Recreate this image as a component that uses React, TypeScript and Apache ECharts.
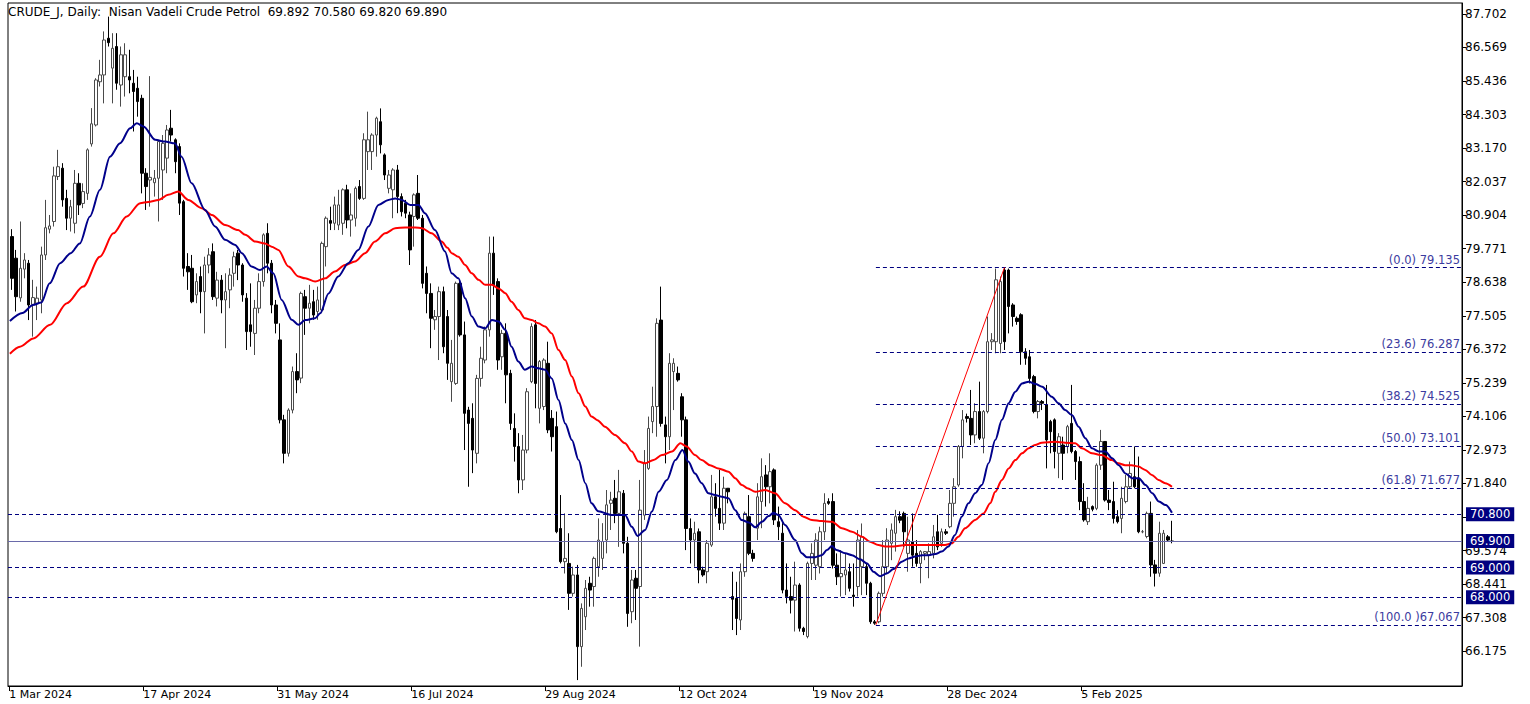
import React, { useEffect, useRef } from "react";
import * as echarts from "echarts";

const FONT = "DejaVu Sans";

const headerText = "CRUDE_J, Daily:  Nisan Vadeli Crude Petrol  69.892 70.580 69.820 69.890";

// Daily OHLC, bar index 0 .. 277
const open = [
  80.18, 79.45, 78.11, 79.08, 79.28, 77.89, 77.93, 78.04, 79.56, 80.43,
  80.69, 82.21, 82.49, 81.47, 80.80, 80.63, 81.98, 81.30, 81.64, 83.31,
  83.95, 85.41, 85.64, 86.88, 85.87, 86.60, 85.30, 85.58, 85.58, 85.36,
  85.19, 84.85, 82.32, 82.09, 82.00, 82.15, 82.43, 82.83, 83.84, 83.45,
  83.22, 81.36, 79.17, 79.11, 78.21, 78.83, 78.32, 79.22, 79.67, 78.10,
  78.71, 78.04, 78.38, 78.94, 79.62, 79.22, 78.10, 77.20, 76.91, 77.76,
  78.66, 80.29, 79.28, 77.87, 76.69, 73.99, 72.86, 74.32, 75.62, 75.40,
  78.15, 77.76, 77.98, 77.65, 77.70, 79.84, 80.72, 80.63, 80.57, 80.63,
  81.76, 80.74, 80.80, 81.87, 81.47, 83.05, 83.05, 83.61, 84.06, 82.94,
  81.81, 81.76, 82.43, 81.53, 81.31, 80.91, 80.86, 81.64, 80.80, 78.94,
  78.26, 77.37, 77.48, 78.32, 77.48, 75.28, 75.22, 78.60, 76.86, 74.32,
  74.04, 72.86, 75.39, 76.01, 77.03, 79.62, 78.66, 76.12, 76.91, 75.56,
  73.70, 73.09, 71.96, 72.97, 75.28, 77.20, 74.38, 74.44, 75.90, 74.04,
  73.76, 70.32, 69.20, 69.14, 68.13, 68.75, 66.33, 67.34, 68.47, 68.36,
  69.03, 69.31, 69.93, 71.17, 71.34, 70.83, 71.51, 69.82, 67.51, 68.64,
  68.36, 70.77, 72.35, 73.93, 74.44, 77.36, 73.82, 73.42, 75.62, 75.56,
  74.77, 73.99, 70.32, 69.93, 70.21, 68.92, 68.86, 69.76, 71.39, 71.00,
  70.50, 71.68, 68.02, 67.96, 67.23, 68.86, 70.72, 69.48, 70.33, 71.23,
  72.13, 71.73, 72.30, 70.55, 70.16, 68.24, 68.02, 67.90, 68.41, 66.95,
  66.67, 69.14, 69.08, 69.03, 70.21, 71.23, 71.23, 69.08, 68.69, 68.75,
  68.86, 68.07, 68.36, 69.03, 69.03, 68.47, 67.17, 67.17, 68.13, 69.03,
  69.82, 70.16, 70.72, 70.83, 69.48, 69.88, 69.48, 69.14, 69.48, 69.42,
  69.48, 70.21, 69.82, 70.21, 70.38, 71.17, 71.79, 73.09, 74.10, 74.04,
  73.48, 74.27, 73.37, 74.27, 76.63, 76.63, 76.57, 79.05, 79.05, 77.87,
  77.42, 77.54, 76.29, 76.12, 75.45, 74.27, 74.61, 74.49, 73.93, 73.99,
  72.86, 73.14, 73.09, 73.87, 72.92, 72.58, 71.23, 70.55, 71.06, 71.00,
  72.46, 73.26, 71.28, 71.23, 70.72, 70.66, 71.23, 71.73, 72.07, 72.02,
  70.21, 70.05, 70.83, 69.09, 68.81, 69.14, 70.04, 69.892,
];
const high = [
  80.43, 79.73, 80.69, 79.62, 79.39, 78.72, 78.49, 79.84, 81.42, 80.91,
  82.54, 83.11, 82.66, 81.76, 81.42, 82.43, 82.32, 81.98, 83.16, 84.52,
  85.53, 86.15, 87.11, 87.61, 87.05, 87.05, 86.60, 86.71, 86.49, 85.81,
  85.58, 84.97, 82.49, 85.60, 82.43, 83.45, 83.61, 83.95, 84.46, 83.50,
  83.33, 81.42, 79.62, 79.56, 78.94, 79.17, 79.50, 79.79, 79.95, 78.99,
  78.88, 78.94, 79.11, 79.67, 79.73, 79.28, 78.27, 78.60, 78.04, 78.94,
  80.29, 80.63, 79.39, 78.04, 77.25, 74.16, 74.38, 75.79, 76.24, 78.32,
  78.38, 78.55, 78.38, 78.49, 80.01, 80.86, 81.19, 81.53, 81.76, 81.81,
  81.93, 81.64, 81.87, 82.09, 83.67, 84.40, 83.67, 84.23, 84.51, 82.99,
  82.43, 82.49, 82.60, 81.64, 81.42, 81.02, 81.64, 82.26, 80.91, 79.17,
  78.60, 77.70, 78.49, 78.49, 77.70, 76.69, 78.66, 78.70, 77.31, 74.43,
  74.55, 75.51, 76.46, 77.14, 80.18, 80.18, 78.77, 77.03, 77.25, 75.68,
  74.21, 73.54, 73.48, 75.06, 77.25, 77.36, 76.01, 76.07, 76.63, 74.32,
  74.27, 71.45, 70.83, 70.16, 69.03, 69.09, 67.79, 68.58, 68.69, 69.37,
  70.66, 70.50, 71.62, 71.56, 71.96, 72.30, 71.62, 70.04, 68.92, 68.92,
  71.96, 72.97, 74.10, 75.11, 77.42, 78.49, 74.10, 76.24, 76.07, 75.79,
  74.89, 74.10, 70.66, 70.55, 70.32, 69.03, 69.93, 72.13, 71.85, 72.30,
  72.07, 71.68, 68.86, 68.52, 69.14, 70.89, 71.45, 69.60, 71.85, 72.69,
  72.46, 72.86, 72.35, 71.06, 70.50, 69.14, 68.69, 69.20, 68.47, 67.00,
  69.20, 69.82, 70.16, 70.38, 71.51, 71.34, 71.51, 69.48, 69.59, 69.48,
  69.14, 69.14, 70.27, 70.49, 69.14, 68.52, 67.23, 68.19, 69.93, 70.33,
  70.49, 70.95, 70.90, 70.89, 70.72, 70.83, 69.93, 69.59, 69.56, 69.82,
  70.44, 70.78, 70.32, 70.30, 71.62, 72.02, 73.14, 74.32, 74.20, 75.00,
  74.55, 75.28, 74.32, 77.48, 76.92, 79.10, 78.83, 79.135, 79.10, 77.93,
  77.48, 77.59, 76.41, 76.35, 75.51, 74.66, 74.66, 75.17, 73.99, 74.04,
  73.54, 73.42, 73.82, 75.17, 72.97, 72.75, 71.85, 71.39, 71.10, 72.52,
  73.65, 73.26, 71.62, 71.90, 70.94, 71.73, 72.13, 72.58, 73.09, 72.75,
  70.27, 70.89, 71.23, 69.26, 70.55, 70.27, 70.10, 70.58,
];
const low = [
  78.38, 77.65, 77.98, 78.77, 77.36, 76.80, 77.36, 77.59, 79.39, 80.29,
  80.52, 82.09, 81.19, 80.40, 80.35, 80.29, 80.91, 81.14, 81.42, 83.22,
  83.90, 85.25, 84.68, 86.60, 84.68, 85.14, 84.57, 84.91, 85.02, 83.73,
  84.23, 81.64, 81.08, 81.19, 81.53, 80.69, 81.42, 82.32, 83.39, 82.32,
  80.91, 78.83, 78.38, 77.93, 77.93, 77.59, 76.91, 78.94, 78.04, 77.82,
  77.59, 76.41, 77.76, 78.49, 78.71, 77.98, 76.35, 76.46, 76.18, 77.59,
  78.49, 78.94, 77.59, 76.91, 73.87, 72.52, 72.75, 74.21, 74.89, 75.23,
  76.86, 77.25, 77.37, 77.37, 77.65, 79.17, 80.40, 80.40, 80.40, 80.24,
  80.46, 80.18, 80.52, 81.42, 81.42, 82.43, 82.43, 82.88, 82.99, 82.09,
  81.64, 80.80, 80.97, 80.86, 80.80, 79.22, 79.84, 80.74, 78.43, 77.59,
  76.41, 77.03, 76.01, 76.24, 75.34, 74.60, 75.17, 76.80, 72.97, 71.73,
  72.19, 72.52, 75.11, 75.90, 76.80, 78.21, 75.68, 75.68, 74.55, 73.65,
  72.58, 71.51, 71.62, 72.86, 75.23, 74.38, 73.87, 74.32, 73.54, 72.92,
  70.16, 69.14, 68.80, 67.57, 68.02, 65.20, 65.65, 66.89, 67.68, 67.68,
  68.69, 68.92, 69.48, 70.27, 70.50, 69.70, 69.48, 67.00, 67.12, 67.23,
  66.33, 70.61, 72.30, 73.54, 73.42, 73.76, 72.52, 72.97, 74.32, 75.28,
  73.42, 69.59, 69.14, 69.03, 68.47, 68.69, 68.47, 69.70, 70.72, 70.27,
  70.27, 71.17, 66.89, 66.72, 66.89, 68.69, 69.42, 69.20, 69.93, 70.33,
  71.06, 71.17, 70.44, 69.93, 68.13, 67.79, 67.45, 66.84, 66.84, 66.72,
  66.61, 68.58, 68.58, 68.80, 69.93, 71.12, 68.97, 68.41, 68.02, 68.07,
  68.19, 67.68, 68.02, 68.07, 68.07, 67.10, 67.067, 67.12, 68.02, 68.80,
  69.25, 69.54, 70.50, 69.70, 68.86, 69.03, 69.03, 68.47, 69.25, 68.64,
  69.31, 69.59, 69.70, 70.10, 70.33, 70.72, 71.73, 72.69, 73.90, 73.14,
  73.20, 73.31, 72.86, 74.21, 76.35, 76.24, 76.24, 76.35, 76.91, 77.14,
  77.20, 75.85, 75.85, 75.22, 74.21, 74.04, 74.32, 72.35, 72.86, 72.35,
  72.02, 71.96, 72.86, 72.86, 71.96, 70.94, 70.55, 70.44, 70.90, 70.94,
  72.30, 71.23, 70.94, 70.49, 70.49, 70.16, 71.17, 71.68, 71.68, 70.16,
  70.16, 69.99, 68.69, 68.36, 68.69, 69.12, 69.88, 69.82,
];
const close = [
  78.77, 78.15, 79.11, 79.39, 77.87, 78.12, 78.10, 79.56, 80.48, 80.54,
  82.23, 82.54, 81.42, 80.80, 81.19, 81.98, 81.25, 81.70, 83.11, 83.99,
  85.47, 85.64, 86.82, 86.73, 86.54, 85.36, 86.32, 86.32, 85.47, 85.08,
  84.74, 82.32, 81.87, 82.18, 82.15, 83.39, 83.33, 83.78, 83.61, 82.71,
  81.31, 79.11, 78.99, 77.98, 78.66, 78.32, 79.22, 79.56, 78.15, 78.71,
  78.04, 78.32, 78.88, 79.50, 79.22, 78.21, 76.97, 76.97, 77.76, 78.66,
  80.24, 79.28, 77.87, 77.25, 73.99, 72.86, 74.32, 75.62, 75.34, 78.26,
  77.76, 77.93, 77.53, 78.04, 79.95, 80.80, 80.63, 81.25, 81.25, 81.76,
  80.74, 80.91, 81.81, 81.47, 83.45, 83.45, 83.61, 84.18, 83.28, 82.26,
  82.26, 82.43, 81.53, 81.02, 80.97, 79.73, 81.59, 80.80, 78.60, 78.26,
  77.42, 77.48, 78.32, 76.46, 75.90, 75.90, 78.60, 76.86, 74.21, 73.87,
  72.97, 75.39, 76.07, 77.03, 79.62, 78.55, 76.01, 76.91, 75.51, 73.87,
  73.09, 71.96, 72.97, 74.94, 77.14, 75.22, 75.96, 76.01, 73.65, 73.42,
  70.21, 69.20, 69.31, 68.13, 68.75, 66.33, 67.62, 68.30, 68.24, 69.31,
  69.93, 69.88, 71.12, 71.28, 70.83, 71.56, 69.82, 67.45, 68.58, 68.30,
  70.94, 72.52, 73.70, 74.44, 77.25, 73.87, 73.42, 75.90, 75.90, 75.34,
  73.99, 70.32, 69.93, 70.16, 68.92, 68.75, 69.82, 71.39, 71.00, 70.50,
  71.68, 71.56, 67.93, 67.28, 68.86, 70.83, 69.48, 69.31, 71.39, 72.07,
  71.73, 72.24, 70.61, 70.38, 68.24, 68.02, 67.90, 68.41, 66.95, 66.84,
  69.14, 69.48, 69.93, 70.21, 71.17, 71.17, 69.08, 68.69, 68.80, 68.92,
  68.30, 68.02, 69.93, 70.04, 68.47, 67.17, 67.12, 68.13, 69.03, 69.93,
  70.27, 70.72, 70.60, 70.21, 69.93, 69.42, 69.14, 69.54, 69.54, 69.54,
  70.04, 69.70, 70.21, 70.16, 71.17, 71.73, 73.09, 73.99, 74.04, 73.48,
  74.27, 73.37, 74.27, 76.63, 76.69, 78.72, 78.66, 76.63, 77.82, 77.48,
  77.31, 76.29, 76.07, 75.39, 74.27, 74.61, 74.55, 73.31, 73.59, 72.92,
  73.42, 72.86, 73.76, 72.92, 72.58, 71.23, 70.61, 71.00, 70.97, 72.46,
  73.26, 71.28, 71.20, 70.66, 70.55, 71.34, 71.73, 72.18, 71.73, 70.21,
  70.21, 70.83, 69.09, 68.81, 70.16, 70.16, 69.93, 69.89,
];

// Moving averages: [bar position, value]
const blueMA = [
  [-0.5, 77.33], [2.5, 77.6], [5, 77.87], [7, 77.95], [9, 78.6], [11.5, 79.28], [14, 79.62], [16.2, 79.95],
  [18.6, 80.86], [21, 81.76], [23.4, 82.88], [25.8, 83.33], [28.2, 83.84], [29.8, 84.01], [31.4, 83.9],
  [34.2, 83.45], [36.5, 83.39], [38.9, 83.33], [40.5, 82.88], [42.9, 81.98], [46.1, 81.08], [48.5, 80.52],
  [50.9, 80.07], [53.3, 79.9], [54.9, 79.62], [57.2, 79.17], [59.2, 79.05], [60.8, 79.17], [62.4, 78.94],
  [64.4, 78.04], [66.8, 77.37], [68.4, 77.2], [70, 77.36], [72.4, 77.42], [73.6, 77.59], [75.6, 78.26],
  [77.9, 78.83], [80.3, 79.28], [82.7, 79.73], [85.1, 80.52], [87.5, 81.25], [89.9, 81.42], [91.5, 81.47],
  [93.1, 81.42], [95.1, 81.25], [97.1, 81.25], [98.6, 80.97], [101, 80.4], [103.4, 79.68], [105, 78.94],
  [106.6, 78.77], [108.2, 78.1], [109.8, 77.48], [111.4, 77.14], [113, 77.08], [114.6, 77.36], [116.2, 77.31],
  [117.8, 77.03], [119.3, 76.46], [120.9, 75.96], [122.5, 75.68], [124.1, 75.79], [125.7, 75.73], [127.3, 75.68],
  [128.9, 75.39], [130.5, 74.66], [132.1, 73.87], [133.7, 73.31], [135.3, 72.63], [136.9, 71.85], [138.4, 71.17],
  [140, 70.9], [143.2, 70.78], [146.4, 70.78], [148, 70.38], [149.4, 70.07], [151.2, 70.27], [152.8, 70.89],
  [154.4, 71.56], [156.4, 71.96], [158.4, 72.63], [160.1, 72.97], [161.5, 72.58], [163.1, 72.18], [164.7, 71.85],
  [166.3, 71.51], [167.9, 71.45], [169.5, 71.39], [171.1, 71.34], [172.7, 70.94], [174.2, 70.61], [176, 70.52],
  [177.5, 70.36], [179.1, 70.55], [180.7, 70.74], [181.8, 70.85], [183, 70.78], [184.6, 70.44], [187, 69.93],
  [188.6, 69.48], [189.8, 69.35], [191.8, 69.35], [193.4, 69.42], [194.6, 69.59], [195.8, 69.73], [196.9, 69.59],
  [199, 69.48], [200.6, 69.42], [202.5, 69.28], [204.2, 69.14], [205.7, 68.86], [207.3, 68.71], [208.9, 68.8],
  [210.5, 68.95], [212.5, 69.2], [214.1, 69.31], [215.7, 69.37], [217.3, 69.42], [218.9, 69.42], [220.5, 69.46],
  [222, 69.54], [223.6, 69.71], [225.2, 70.1], [226.8, 70.72], [228.4, 71.17], [230, 71.51], [231.6, 71.79],
  [233.2, 72.52], [234.8, 73.31], [236.4, 73.99], [238, 74.55], [239.6, 74.94], [241.2, 75.22], [242.8, 75.28],
  [244.4, 75.2], [246, 75.11], [248.3, 74.77], [249.9, 74.55], [251.5, 74.32], [253.1, 74.15], [254.7, 73.76],
  [256.3, 73.37], [257.9, 73.03], [259.5, 72.92], [261.1, 72.92], [262.7, 72.69], [264.3, 72.46], [265.9, 72.18],
  [267.5, 72.02], [269.1, 72.02], [270.7, 71.79], [272.3, 71.51], [273.9, 71.23], [275.5, 71.11], [277, 70.85],
];
const redMA = [
  [-0.5, 76.22], [1.9, 76.46], [5.1, 76.74], [9.1, 77.2], [13.1, 77.93], [17, 78.49], [21, 79.5], [24.2, 80.29],
  [27.4, 80.86], [30.6, 81.31], [32.5, 81.35], [35, 81.42], [37.3, 81.59], [39.7, 81.7], [42.1, 81.42],
  [45.3, 81.14], [47.7, 80.91], [50.9, 80.57], [54, 80.4], [55.7, 80.24], [58.1, 80.01], [60.4, 79.95],
  [62, 79.84], [63.6, 79.73], [66, 79.17], [68.4, 78.83], [70, 78.77], [72.4, 78.66], [74.8, 78.77],
  [77.1, 79.0], [79.5, 79.22], [81.9, 79.34], [84.3, 79.62], [86.7, 80.01], [89.1, 80.29], [91.5, 80.46],
  [93.9, 80.49], [96.3, 80.49], [97.9, 80.46], [100.2, 80.29], [102.6, 80.01], [104, 79.8], [105, 79.62],
  [106.6, 79.5], [108.2, 79.22], [109.8, 78.94], [111.4, 78.72], [113, 78.55], [114.6, 78.55], [116.2, 78.43],
  [117.8, 78.27], [119.3, 77.98], [120.9, 77.7], [122.5, 77.42], [124.1, 77.36], [125.7, 77.25], [127.3, 77.14],
  [128.9, 76.91], [130.5, 76.35], [132.1, 76.01], [133.7, 75.45], [135.3, 74.89], [136.9, 74.44], [138.4, 74.1],
  [139.8, 73.98], [141.6, 73.76], [144, 73.48], [146.4, 73.2], [148, 72.92], [149.6, 72.58], [151.2, 72.52],
  [153.2, 72.63], [155.2, 72.8], [157.6, 72.92], [159.6, 73.2], [161.1, 73.09], [163.1, 72.8], [164.7, 72.63],
  [166.7, 72.46], [168.7, 72.35], [171.1, 72.24], [172.7, 72.02], [174.3, 71.79], [175.6, 71.68], [177.5, 71.56],
  [179.9, 71.62], [182.2, 71.51], [184.6, 71.17], [187, 70.94], [189, 70.72], [191, 70.61], [193.4, 70.57],
  [195.8, 70.55], [198.2, 70.33], [200.6, 70.21], [203, 70.04], [204.9, 69.87], [206.9, 69.76], [208.5, 69.71],
  [210.5, 69.71], [213.3, 69.76], [215.7, 69.76], [218.1, 69.76], [220.5, 69.76], [222.8, 69.76], [224.4, 69.82],
  [226, 70.04], [227.6, 70.33], [230, 70.61], [232, 70.83], [233.6, 71.17], [234.8, 71.56], [236.4, 71.96],
  [238, 72.35], [239.6, 72.63], [241.2, 72.86], [242.8, 73.03], [244.3, 73.14], [245.9, 73.22], [249.1, 73.25],
  [251.5, 73.22], [253.9, 73.2], [255.5, 73.03], [257.9, 72.86], [260.2, 72.8], [262.6, 72.63], [264.2, 72.52],
  [265.8, 72.46], [267.4, 72.46], [269, 72.41], [270.6, 72.3], [272.2, 72.13], [273.8, 71.96], [275.4, 71.85],
  [277, 71.73],
];

const priceTicks = [
  87.702, 86.569, 85.436, 84.303, 83.17, 82.037, 80.904, 79.771, 78.638, 77.505,
  76.372, 75.239, 74.106, 72.973, 71.84, 70.707, 69.574, 68.441, 67.308, 66.175,
];
// labels shown on the price scale (70.707 is hidden behind the 70.800 tag in the reference)
const priceLabels = [
  87.702, 86.569, 85.436, 84.303, 83.17, 82.037, 80.904, 79.771, 78.638, 77.505,
  76.372, 75.239, 74.106, 72.973, 71.84, 69.574, 68.441, 67.308, 66.175,
];
const dateTicks = [-0.67, 31.33, 63.33, 95.33, 127.33, 159.33, 191.33, 223.33, 255.33];
const dateLabels = [
  "1 Mar 2024", "17 Apr 2024", "31 May 2024", "16 Jul 2024", "29 Aug 2024",
  "12 Oct 2024", "19 Nov 2024", "28 Dec 2024", "5 Feb 2025",
];

const dashedLevels = [70.8, 69.0, 68.0];
const bidLevel = 69.9;
const fibRatios = ["0.0", "23.6", "38.2", "50.0", "61.8", "100.0"];
const fibValues = [79.135, 76.287, 74.525, 73.101, 71.677, 67.067];
const fibLowBar = 206.3;
const fibHighBar = 237;

const X_MIN = -0.955;
const X_MAX = 346.26;

export default function App() {
  const ref = useRef<HTMLDivElement>(null);
  useEffect(() => {
    const chart = echarts.init(ref.current!, null, { renderer: "svg" });
    const candles = open.map((o, i) => [i, o, close[i], low[i], high[i]]);
    const fmtDate = (v: number) => {
      let best = 0;
      for (let k = 1; k < dateTicks.length; k++) {
        if (Math.abs(dateTicks[k] - v) < Math.abs(dateTicks[best] - v)) best = k;
      }
      return dateLabels[best];
    };
    const navy = "#000080";
    const boxLabel = (txt: string) => ({
      show: true,
      position: "end",
      distance: 4,
      formatter: txt,
      backgroundColor: navy,
      color: "#ffffff",
      padding: [1, 4, 1, 4],
      lineHeight: 12,
      fontSize: 11.5,
      fontFamily: FONT,
    });
    const markData: any[] = [];
    dashedLevels.forEach((v) => {
      markData.push({
        yAxis: v,
        lineStyle: { color: navy, width: 1, type: [4, 3] },
        label: boxLabel(v.toFixed(3)),
      });
    });
    markData.push({
      yAxis: bidLevel,
      lineStyle: { color: "#6a6aaa", width: 1, type: "solid" },
      label: boxLabel(bidLevel.toFixed(3)),
    });
    fibValues.forEach((v, k) => {
      const txt = fibRatios[k] === "100.0" ? `(${fibRatios[k]} )${v.toFixed(3)}` : `(${fibRatios[k]}) ${v.toFixed(3)}`;
      markData.push([
        {
          coord: [fibLowBar, v],
          lineStyle: { color: navy, width: 1, type: [4, 3] },
          label: {
            show: true,
            position: "insideEndTop",
            distance: 2,
            formatter: txt,
            color: "#3c3ca0",
            fontSize: 11.5,
            fontFamily: FONT,
          },
        },
        { coord: [X_MAX, v] },
      ]);
    });
    markData.push([
      {
        coord: [fibLowBar, fibValues[5]],
        lineStyle: { color: "#ff0000", width: 1, type: "solid" },
        label: { show: false },
      },
      { coord: [fibHighBar, fibValues[0]] },
    ]);

    chart.setOption({
      animation: false,
      backgroundColor: "#ffffff",
      textStyle: { fontFamily: FONT },
      grid: {
        left: 8,
        top: 3,
        width: 1454,
        height: 683,
        show: true,
        borderColor: "#000000",
        borderWidth: 1,
        backgroundColor: "transparent",
      },
      xAxis: {
        type: "value",
        min: X_MIN,
        max: X_MAX,
        position: "bottom",
        splitLine: { show: false },
        axisLine: { show: true, onZero: false, lineStyle: { color: "#000", width: 1 } },
        axisTick: { show: true, customValues: dateTicks, length: 5, lineStyle: { color: "#000" } },
        axisLabel: {
          customValues: dateTicks,
          formatter: fmtDate,
          align: "left",
          margin: 3,
          color: "#000",
          fontSize: 11,
          fontFamily: FONT,
        },
      },
      yAxis: {
        type: "value",
        position: "right",
        min: 65.0,
        max: 88.07,
        scale: true,
        splitLine: { show: false },
        axisLine: { show: true, onZero: false, lineStyle: { color: "#000", width: 1 } },
        axisTick: { show: true, customValues: priceTicks, length: 4, lineStyle: { color: "#000" } },
        axisLabel: {
          customValues: priceLabels,
          formatter: (v: number) => v.toFixed(3),
          margin: 3,
          color: "#000",
          fontSize: 12,
          lineHeight: 11,
          fontFamily: FONT,
        },
      },
      graphic: [
        {
          type: "text",
          left: 8,
          top: 6,
          z: 100,
          style: { text: headerText, font: `12px '${FONT}'`, fill: "#000" },
        },
      ],
      series: [
        {
          type: "candlestick",
          data: candles,
          barWidth: 3,
          itemStyle: {
            color: "#ffffff",
            color0: "#000000",
            borderColor: "#4a4a4a",
            borderColor0: "#000000",
            borderWidth: 1,
          },
          z: 2,
        },
        {
          type: "line",
          data: blueMA,
          symbol: "none",
          smooth: 0.3,
          smoothMonotone: "x",
          lineStyle: { color: "#00008b", width: 2 },
          z: 4,
        },
        {
          type: "line",
          data: redMA,
          symbol: "none",
          smooth: 0.3,
          smoothMonotone: "x",
          lineStyle: { color: "#ff0000", width: 2 },
          z: 3,
        },
        {
          type: "line",
          data: [],
          z: 5,
          markLine: {
            silent: true,
            symbol: ["none", "none"],
            animation: false,
            data: markData,
          },
        },
      ],
    });
    return () => chart.dispose();
  }, []);
  return (
    <div
      ref={ref}
      style={{ position: "fixed", left: 0, top: 0, width: 1530, height: 704, background: "#fff" }}
    />
  );
}
